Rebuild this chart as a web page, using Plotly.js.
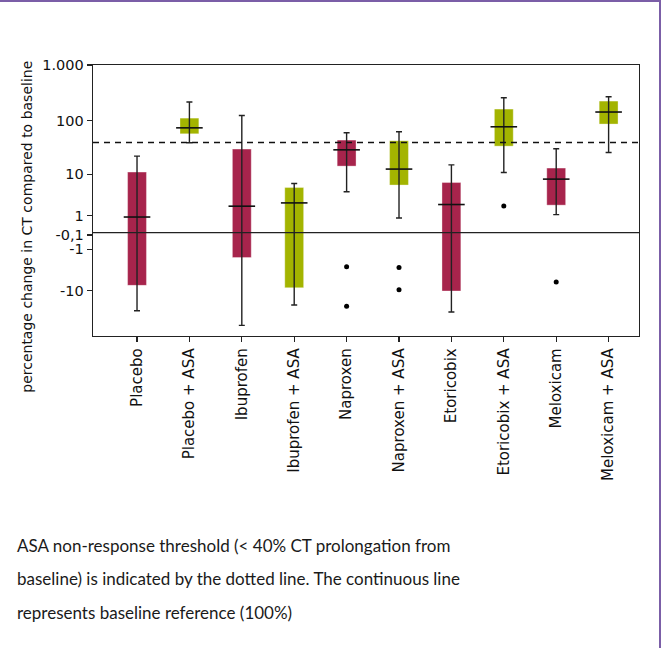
<!DOCTYPE html>
<html><head><meta charset="utf-8">
<script src="https://cdn.plot.ly/plotly-3.0.1.min.js"></script>
<style>
html,body{margin:0;padding:0;background:#fff}
#wrap{position:relative;width:661px;height:648px}
#chart{width:661px;height:648px}
#frame{position:absolute;left:0;top:0;width:661px;height:648px;box-sizing:border-box;border-top:2px solid #7b5ea7;border-right:2px solid #7b5ea7;pointer-events:none}
</style>
</head><body><div id="wrap"><div id="chart"></div><div id="frame"></div></div>
<script>
const categories = ['Placebo','Placebo + ASA','Ibuprofen','Ibuprofen + ASA','Naproxen','Naproxen + ASA','Etoricobix','Etoricobix + ASA','Meloxicam','Meloxicam + ASA'];
const lowerWhisker = [-24, 39.5, -44.7, -18.8, 4.4, 0.83, -25.4, 10.9, 1.1, 26.2];
const q1Values     = [-7.8, 57.7, -1.8, -8.7, 14.5, 6.1, -10.1, 34.3, 2.1, 86.7];
const medianValues = [0.9, 74, 1.97, 2.4, 29.3, 12.7, 2.18, 77.4, 8.06, 143];
const q3Values     = [11.1, 111, 30.2, 5.4, 44.3, 43, 6.87, 161.6, 13.3, 225];
const upperWhisker = [22.4, 216, 124, 6.55, 60.2, 62.8, 15.3, 258, 30.6, 269];
const outlierCategories = ['Naproxen','Naproxen','Naproxen + ASA','Naproxen + ASA','Etoricobix + ASA','Meloxicam'];
const outlierValues = [-3.1, -19.8, -3.2, -9.6, 2.0, -6.7];
const boxColors = ['#a7244c','#a3b400','#a7244c','#a3b400','#a7244c','#a3b400','#a7244c','#a3b400','#a7244c','#a3b400'];
const yTickValues = [1000, 100, 10, 1, -0.1, -1, -10];
const yTickLabels = ['1.000', '100', '10', '1', '-0,1', '-1', '-10'];
const thresholdValue = 40;
const baselineValue = 0;
const captionLines = [
  'ASA non-response threshold (< 40% CT prolongation from',
  'baseline) is indicated by the dotted line. The continuous line',
  'represents baseline reference (100%)'
];

// signed log transform used by the original chart's y scale
function t(v){ return Math.sign(v) * Math.log10(1 + Math.abs(v)); }

const AX_FONT = '"DejaVu Sans", "Open Sans", sans-serif';
const CAP_FONT = 'Lato, "Open Sans", sans-serif';

const boxes = {
  type: 'bar',
  x: categories,
  base: q1Values.map(t),
  y: q3Values.map((v,i) => t(v) - t(q1Values[i])),
  width: 0.36,
  marker: {color: boxColors, line: {color: 'rgba(255,255,255,0.35)', width: 1}},
  hoverinfo: 'skip'
};
const whiskers = {
  type: 'scatter',
  mode: 'markers',
  x: categories,
  y: medianValues.map(t),
  marker: {symbol: 'line-ew', size: 19, color: '#111', line: {color: '#111', width: 1.6}},
  error_y: {
    type: 'data', symmetric: false,
    array: upperWhisker.map((v,i) => t(v) - t(medianValues[i])),
    arrayminus: lowerWhisker.map((v,i) => t(medianValues[i]) - t(v)),
    color: '#222', thickness: 1.4, width: 3
  },
  hoverinfo: 'skip'
};
const outliers = {
  type: 'scatter',
  mode: 'markers',
  x: outlierCategories,
  y: outlierValues.map(t),
  marker: {symbol: 'circle', size: 5, color: '#000'},
  hoverinfo: 'skip'
};

const L = 92.7, R = 21.7, T = 65.3, B = 312;
const plotW = 661 - L - R, plotH = 648 - T - B;
const px2paperX = px => (px - L) / plotW;
const px2paperY = py => (648 - B - py) / plotH;

const annotations = [
  {text: 'percentage change in CT compared to baseline', textangle: -90,
   xref: 'paper', yref: 'paper', x: px2paperX(27), y: px2paperY(226.5),
   xanchor: 'center', yanchor: 'middle', showarrow: false,
   font: {family: AX_FONT, size: 14, color: '#111'}}
];
const captionY = [545, 578.3, 611.7];
captionLines.forEach((s,i) => annotations.push({
  text: s, xref: 'paper', yref: 'paper', x: px2paperX(15), y: px2paperY(captionY[i]),
  xanchor: 'left', yanchor: 'middle', showarrow: false,
  font: {family: CAP_FONT, size: 17, color: '#1a1a1a'}
}));

const layout = {
  width: 661, height: 648,
  margin: {l: L, r: R, t: T, b: B, pad: 0},
  paper_bgcolor: '#fff', plot_bgcolor: '#fff',
  showlegend: false, hovermode: false, barmode: 'overlay',
  xaxis: {
    type: 'category', range: [-0.84, 9.58],
    showline: true, linecolor: '#222', linewidth: 1.3, mirror: true,
    ticks: 'outside', ticklen: 5, tickcolor: '#222', tickwidth: 1.3,
    tickangle: -90, showgrid: false, zeroline: false,
    tickfont: {family: AX_FONT, size: 15, color: '#111'}
  },
  yaxis: {
    range: [-1.851, 3],
    tickmode: 'array', tickvals: yTickValues.map(t), ticktext: yTickLabels,
    showline: true, linecolor: '#222', linewidth: 1.3, mirror: true,
    ticks: 'outside', ticklen: 5, tickcolor: '#222', tickwidth: 1.3,
    showgrid: false, zeroline: false,
    tickfont: {family: AX_FONT, size: 14.5, color: '#111'}
  },
  shapes: [
    {type: 'line', xref: 'paper', yref: 'y', x0: 0, x1: 1, y0: t(thresholdValue), y1: t(thresholdValue),
     line: {color: '#111', width: 1.4, dash: '6px,5px'}},
    {type: 'line', xref: 'paper', yref: 'y', x0: 0, x1: 1, y0: t(baselineValue), y1: t(baselineValue),
     line: {color: '#222', width: 1.3}}
  ],
  annotations: annotations
};

Plotly.newPlot('chart', [boxes, whiskers, outliers], layout, {displayModeBar: false, staticPlot: true});
</script>
</body></html>
